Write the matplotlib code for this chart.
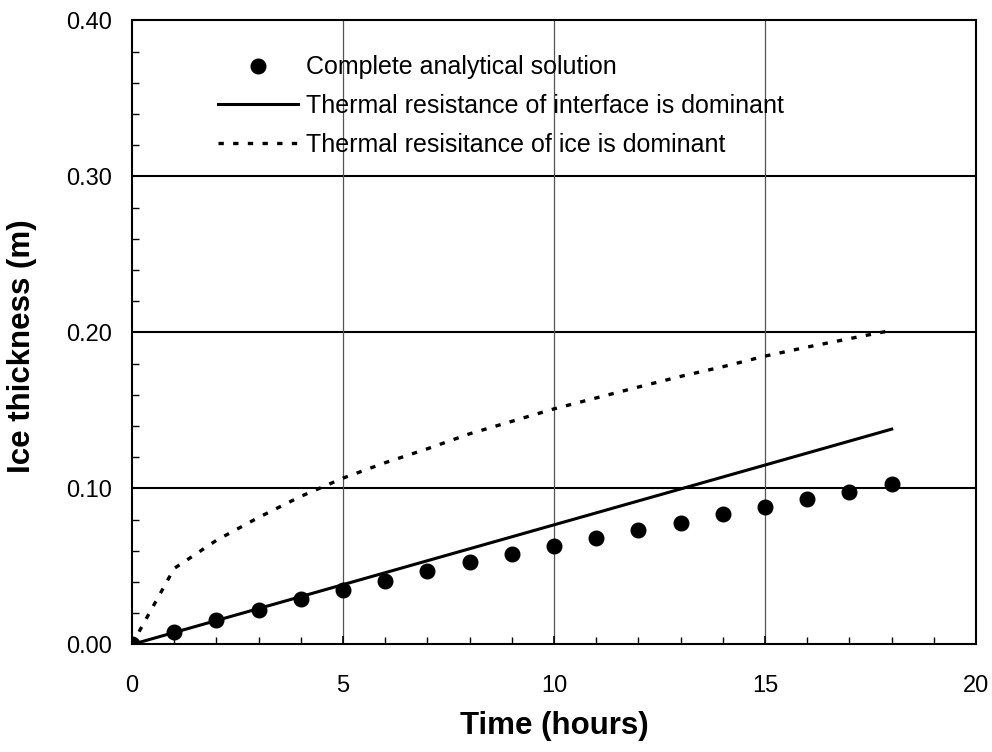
import numpy as np
import matplotlib.pyplot as plt
from matplotlib.ticker import MultipleLocator

plt.rcParams['font.family'] = ['Liberation Sans', 'DejaVu Sans']

# Complete analytical solution (hourly points)
t_analytic = np.arange(0, 19)
h_analytic = [0.000, 0.0077, 0.0156, 0.0222, 0.0289, 0.0348, 0.0408, 0.0470, 0.0526,
              0.0580, 0.0632, 0.0684, 0.0735, 0.0780, 0.0833, 0.0880, 0.0930, 0.0976, 0.1026]

# Thermal resistance of interface dominant (linear)
t_interface = [0, 18]
h_interface = [0.0, 0.138]

# Thermal resistance of ice dominant
t_ice = np.arange(0, 19)
h_ice = [0.000, 0.0487, 0.0667, 0.0814, 0.0949, 0.1066, 0.1165, 0.1254, 0.1350,
         0.1430, 0.1510, 0.1580, 0.1650, 0.1718, 0.1780, 0.1848, 0.1906, 0.1960, 0.2013]

fig = plt.figure(figsize=(9.92, 7.52), dpi=100)
ax = fig.add_axes([0.133, 0.143, 0.851, 0.830])

ax.plot(t_analytic, h_analytic, 'o', color='black', markersize=10.5,
        label='Complete analytical solution', zorder=4)
ax.plot(t_interface, h_interface, '-', color='black', lw=2.2,
        label='Thermal resistance of interface is dominant', zorder=3)
ax.plot(t_ice, h_ice, color='black', lw=2.4, dashes=(1.6, 2.8),
        label='Thermal resisitance of ice is dominant', zorder=3)

ax.set_xlim(0, 20)
ax.set_ylim(0, 0.40)
ax.xaxis.set_major_locator(MultipleLocator(5))
ax.xaxis.set_minor_locator(MultipleLocator(1))
ax.yaxis.set_minor_locator(MultipleLocator(0.02))
ax.set_yticks([0, 0.1, 0.2, 0.3, 0.4])
ax.set_yticklabels(['0.00', '0.10', '0.20', '0.30', '0.40'])

ax.tick_params(axis='both', which='both', direction='in', top=False, right=False)
ax.tick_params(axis='both', which='major', length=6, width=1.2, labelsize=17)
ax.tick_params(axis='both', which='minor', length=5, width=1.0)
ax.tick_params(axis='x', which='major', pad=22)
ax.tick_params(axis='y', which='major', pad=14.5)

for y in [0.1, 0.2, 0.3]:
    ax.axhline(y, color='black', lw=1.5, zorder=1)
for x in [5, 10, 15]:
    ax.axvline(x, color='#555555', lw=0.9, zorder=1)

for s in ax.spines.values():
    s.set_linewidth(1.5)

ax.set_xlabel('Time (hours)', fontsize=22.5, fontweight='bold')
ax.set_ylabel('Ice thickness (m)', fontsize=22.5, fontweight='bold')
ax.xaxis.set_label_coords(0.5, -0.106)
ax.yaxis.set_label_coords(-0.113, 0.478)

ax.legend(loc='upper left', bbox_to_anchor=(0.102, 0.944), frameon=False,
          fontsize=18, handlelength=3.2, handletextpad=0.32, labelspacing=0.59,
          borderaxespad=0, borderpad=0)

fig.savefig('out.png', dpi=100)
